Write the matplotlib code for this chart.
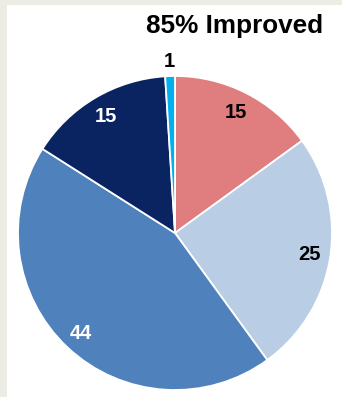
import numpy as np
import matplotlib
matplotlib.use("Agg")
import matplotlib.pyplot as plt
from matplotlib.patches import Rectangle

# Slice values, clockwise from 12 o'clock
values = [15, 25, 44, 15, 1]
labels = ["15", "25", "44", "15", "1"]
colors = ["#DF7D7F", "#B9CDE5", "#4F81BD", "#0A2462", "#00B0F0"]
label_colors = ["black", "black", "white", "white", "black"]
label_dist = [0.86, 0.87, 0.88, 0.86, 1.09]
title = "85% Improved"

plt.rcParams['font.family'] = ['Liberation Sans', 'DejaVu Sans']

fig = plt.figure(figsize=(3.42, 3.97), dpi=100)
fig.patch.set_facecolor("white")
# grey strips at the left and top edge of the original screenshot
fig.patches.append(Rectangle((0, 0), 7 / 342, 1, transform=fig.transFigure,
                             facecolor="#ECECE4", edgecolor="none"))
fig.patches.append(Rectangle((0, 1 - 5 / 397), 1, 5 / 397, transform=fig.transFigure,
                             facecolor="#ECECE4", edgecolor="none"))

ax = fig.add_axes([18 / 342, 7 / 397, 314 / 342, 314 / 397])
wedges, _ = ax.pie(values, colors=colors, startangle=90, counterclock=False,
                   wedgeprops=dict(edgecolor="white", linewidth=1.3))
ax.set_xlim(-1, 1)
ax.set_ylim(-1, 1)
ax.set_aspect("equal")

for w, lab, c, d in zip(wedges, labels, label_colors, label_dist):
    mid = np.deg2rad((w.theta1 + w.theta2) / 2)
    ax.text(d * np.cos(mid), d * np.sin(mid), lab, ha="center", va="center",
            fontsize=14.5, fontweight="bold", color=c)

fig.text(234.5 / 342, 1 - 33 / 397, title, ha="center", va="baseline",
         fontsize=18.8, fontweight="bold", color="black")

fig.savefig("out.png", dpi=100)
